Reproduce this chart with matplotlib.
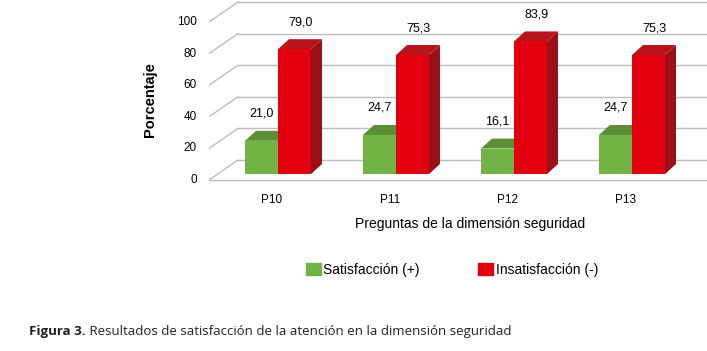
import numpy as np
import matplotlib
matplotlib.use("Agg")
import matplotlib.pyplot as plt
from matplotlib.patches import Polygon, Patch

preguntas = ["P10", "P11", "P12", "P13"]
satisfaccion = [21.0, 24.7, 16.1, 24.7]
insatisfaccion = [79.0, 75.3, 83.9, 75.3]
yticks = [0, 20, 40, 60, 80, 100]

verde, verde_top = "#72B443", "#5B8E35"
rojo, rojo_top, rojo_side = "#E3000F", "#B8141B", "#9A1015"
gris = "#BDBDBD"

plt.rcParams["font.family"] = ["Liberation Sans", "DejaVu Sans"]

W, H = 707, 351
fig = plt.figure(figsize=(W / 100, H / 100), dpi=100)

# axes box in pixels (origin top-left): x 209..707, y 0..182
ax = fig.add_axes([209 / W, 1 - 182 / H, 498 / W, 182 / H])
sx = 118.0   # px per category
sy = 1.58    # px per percent
x0_px, y0_px = 278, 174   # category 0 boundary / bar base
ax.set_xlim((209 - x0_px) / sx, (707 - x0_px) / sx)
ax.set_ylim((y0_px - 182) / sy, y0_px / sy)
ax.axis("off")

front = -6 / sy          # floor front plane
back = 14 / sy           # back wall
x_front = (209 - x0_px) / sx
x_back = (238 - x0_px) / sx
x_end = ax.get_xlim()[1]

# walls and gridlines
for v in yticks:
    ax.plot([x_back, x_end], [v + back, v + back], color=gris, lw=1, zorder=1)
    ax.plot([x_front, x_back], [v + front, v + back], color=gris, lw=1, zorder=1)
    ax.text(x_front - 12 / sx, v + front, str(v), ha="right", va="center", fontsize=8.5)
ax.plot([x_front, x_end], [front, front], color=gris, lw=1, zorder=1)

w = 33 / sx
ddx, ddy = 11 / sx, 10 / sy


def barra_3d(x, v, c, ctop, cside, dx_label):
    ax.add_patch(Polygon([(x + w, 0), (x + w, v), (x + w + ddx, v + ddy), (x + w + ddx, ddy)],
                         closed=True, fc=cside, ec="none", zorder=3))
    ax.add_patch(Polygon([(x, v), (x + w, v), (x + w + ddx, v + ddy), (x + ddx, v + ddy)],
                         closed=True, fc=ctop, ec="none", zorder=3))
    ax.bar(x, v, width=w, align="edge", color=c, zorder=4)
    ax.text(x + w / 2 + dx_label, v + 27 / sy, f"{v:.1f}".replace(".", ","),
            ha="center", va="center", fontsize=9, zorder=5)


for i in range(len(preguntas)):
    barra_3d(i - w, satisfaccion[i], verde, verde_top, "#4F7B2E", 0)
    barra_3d(i, insatisfaccion[i], rojo, rojo_top, rojo_side, 6 / sx)

for i, p in enumerate(preguntas):
    ax.text(i - 6 / sx, (y0_px - 200) / sy, p, ha="center", va="center", fontsize=8.5)

fig.text(470 / W, 1 - 224 / H, "Preguntas de la dimensión seguridad",
         ha="center", va="center", fontsize=10)
fig.text(150 / W, 1 - 100 / H, "Porcentaje", rotation=90, ha="center", va="center",
         fontsize=10.5, fontweight="bold")

handles = [Patch(color=verde), Patch(color=rojo)]
fig.legend(handles, ["Satisfacción (+)", "Insatisfacción (-)"], ncol=2,
           loc="center", bbox_to_anchor=(452 / W, 1 - 270 / H), frameon=False,
           fontsize=10, handlelength=1.08, handleheight=1.0, handletextpad=0.2,
           columnspacing=4.2, borderpad=0)

t1 = fig.text(29 / W, 1 - 331 / H, "Figura 3.", fontsize=9.5, fontweight="bold",
              family="Open Sans", va="center", color="#222222")
plt.annotate(" Resultados de satisfacción de la atención en la dimensión seguridad",
             xy=(1, 0.5), xycoords=t1, va="center", fontsize=9.5, family="Open Sans",
             color="#222222")

fig.savefig("out.png", dpi=100)
